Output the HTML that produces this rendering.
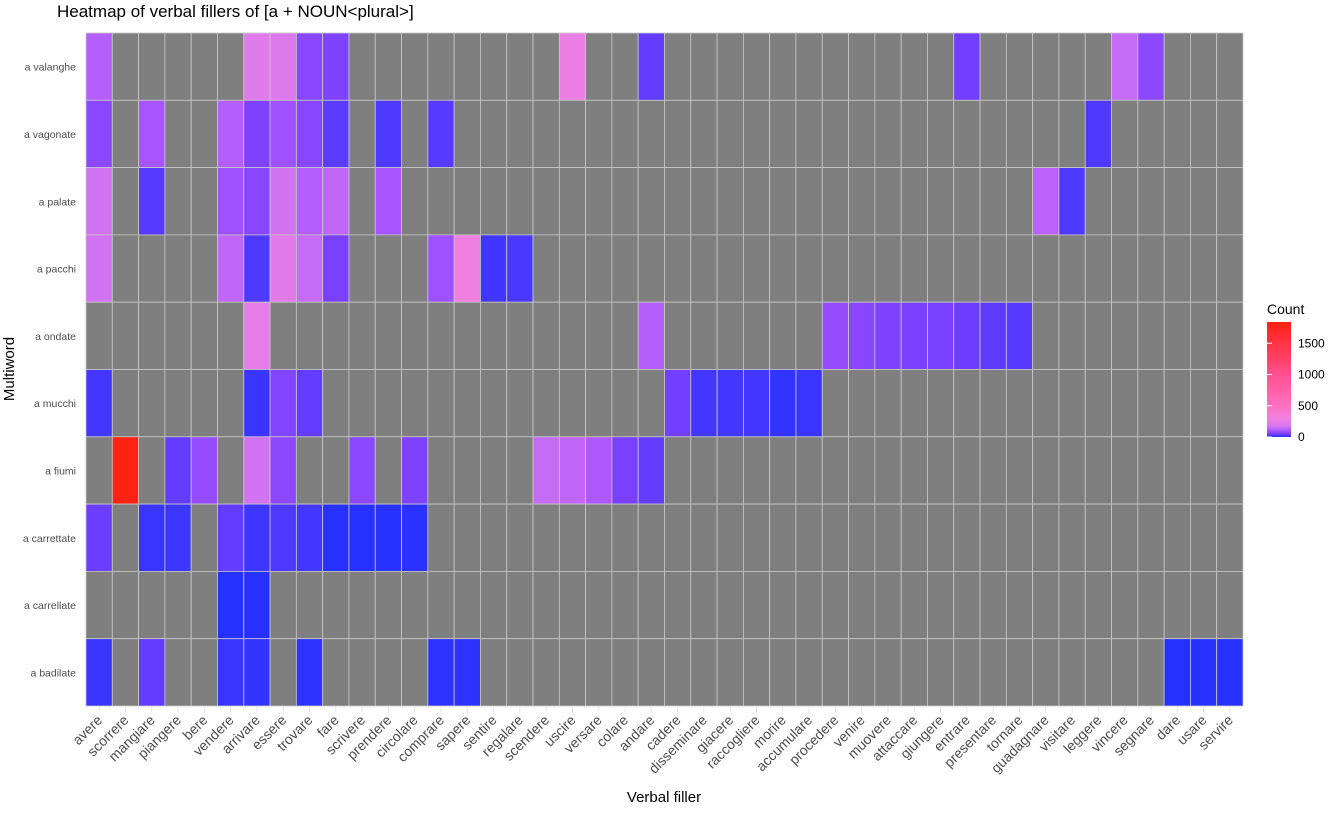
<!DOCTYPE html>
<html><head><meta charset="utf-8"><style>
body{margin:0;background:#fff;font-family:"Liberation Sans",sans-serif}
</style></head><body>
<svg id="chart" width="1328" height="809" xmlns="http://www.w3.org/2000/svg">
<text x="57" y="17" font-size="17" fill="#000">Heatmap of verbal fillers of [a + NOUN&lt;plural&gt;]</text>
<g id="cells"></g><g id="ylab"></g><g id="xlab"></g>
<text x="664" y="802" font-size="15" text-anchor="middle" fill="#000">Verbal filler</text>
<text transform="translate(14,369) rotate(-90)" font-size="15" text-anchor="middle" fill="#000">Multiword</text>
<g>
<defs><linearGradient id="lg" x1="0" y1="1" x2="0" y2="0"></linearGradient></defs>
<text x="1267" y="314" font-size="14" fill="#000">Count</text>
<rect id="lgbar" x="1267" y="322" width="24" height="115" fill="url(#lg)"/>
<g id="lgticks"></g>
</g>
</svg>
<script>
const verbs=["avere","scorrere","mangiare","piangere","bere","vendere","arrivare","essere","trovare","fare","scrivere","prendere","circolare","comprare","sapere","sentire","regalare","scendere","uscire","versare","colare","andare","cadere","disseminare","giacere","raccogliere","morire","accumulare","procedere","venire","muovere","attaccare","giungere","entrare","presentare","tornare","guadagnare","visitare","leggere","vincere","segnare","dare","usare","servire"];
const rows=["a valanghe","a vagonate","a palate","a pacchi","a ondate","a mucchi","a fiumi","a carrettate","a carrellate","a badilate"];
const rowValanghe={avere:120,arrivare:220,essere:200,trovare:65,fare:55,uscire:280,andare:35,entrare:45,vincere:150,segnare:70};
const rowVagonate={avere:70,mangiare:100,vendere:120,arrivare:55,essere:90,trovare:65,fare:30,prendere:22,comprare:28,leggere:22};
const rowPalate={avere:170,mangiare:28,vendere:90,arrivare:65,essere:170,trovare:120,fare:140,prendere:100,guadagnare:130,visitare:22};
const rowPacchi={avere:170,vendere:140,arrivare:22,essere:230,trovare:150,fare:50,comprare:90,sapere:300,sentire:15,regalare:20};
const rowOndate={arrivare:250,andare:120,procedere:80,venire:65,muovere:55,attaccare:50,giungere:50,entrare:40,presentare:32,tornare:28};
const rowMucchi={avere:16,arrivare:12,essere:60,trovare:35,cadere:45,disseminare:16,giacere:16,raccogliere:16,morire:8,accumulare:12};
const rowFiumi={scorrere:1830,piangere:35,bere:80,arrivare:170,essere:70,scrivere:70,circolare:55,scendere:150,uscire:140,versare:110,colare:50,andare:35};
const rowCarrettate={avere:40,mangiare:12,piangere:14,vendere:35,arrivare:14,essere:22,trovare:16,fare:3,scrivere:3,prendere:4,circolare:5};
const rowCarrellate={vendere:2,arrivare:3};
const rowBadilate={avere:12,mangiare:35,vendere:12,arrivare:9,trovare:6,comprare:6,sapere:6,dare:3,usare:3,servire:3};
const rowData=[rowValanghe,rowVagonate,rowPalate,rowPacchi,rowOndate,rowMucchi,rowFiumi,rowCarrettate,rowCarrellate,rowBadilate];
const legendTicks=[0,500,1000,1500];
const maxVal=1840;
const stops=[[0,[32,48,255]],[20,[74,56,255]],[50,[122,64,255]],[100,[168,85,255]],[180,[216,120,240]],[300,[240,128,224]],[500,[255,112,192]],[1000,[255,80,144]],[1840,[255,32,16]]];
function col(v){for(let i=1;i<stops.length;i++){if(v<=stops[i][0]){const a=stops[i-1],b=stops[i];const t=(v-a[0])/(b[0]-a[0]);return 'rgb('+a[1].map((c,k)=>Math.round(c+(b[1][k]-c)*t)).join(',')+')';}}return 'rgb(255,32,16)';}
const L=86,R=1243,T=33,B=706;
const cw=(R-L)/verbs.length,rh=(B-T)/rows.length;
const xs=i=>L+i*cw, ys=j=>T+j*rh;
const NS="http://www.w3.org/2000/svg";
const cells=document.getElementById('cells'),yl=document.getElementById('ylab'),xl=document.getElementById('xlab');
rows.forEach((r,j)=>{
 verbs.forEach((v,i)=>{
  const val=rowData[j][v];
  const e=document.createElementNS(NS,'rect');
  e.setAttribute('x',xs(i));e.setAttribute('y',ys(j));e.setAttribute('width',cw);e.setAttribute('height',rh);
  e.setAttribute('fill',val===undefined?'#7f7f7f':col(val));
  e.setAttribute('stroke','#c8c8c8');e.setAttribute('stroke-width','0.8');
  
  
  cells.appendChild(e);
 });
 const t=document.createElementNS(NS,'text');
 t.setAttribute('x',76);t.setAttribute('y',ys(j)+rh/2+4);t.setAttribute('text-anchor','end');t.setAttribute('font-size','10.5');t.setAttribute('fill','#4d4d4d');
 t.textContent=r;
 
 
 yl.appendChild(t);
});
verbs.forEach((v,i)=>{
 const cx=xs(i)+cw/2;
 const tk=document.createElementNS(NS,'line');
 tk.setAttribute('x1',cx);tk.setAttribute('x2',cx);tk.setAttribute('y1',B);tk.setAttribute('y2',B+7);tk.setAttribute('stroke','#e5e5e5');
 
 
 xl.appendChild(tk);
 const t=document.createElementNS(NS,'text');
 t.setAttribute('transform','translate('+(cx+4)+','+(B+15)+') rotate(-45)');
 t.setAttribute('text-anchor','end');t.setAttribute('font-size','14');t.setAttribute('fill','#4d4d4d');
 t.textContent=v;
 
 
 xl.appendChild(t);
});
const lg=document.getElementById('lg');
stops.forEach(s=>{const st=document.createElementNS(NS,'stop');st.setAttribute('offset',s[0]/maxVal);st.setAttribute('stop-color',col(s[0]));lg.appendChild(st);});
const lt=document.getElementById('lgticks');
legendTicks.forEach(v=>{
 const y=437-v/maxVal*115;
 const t=document.createElementNS(NS,'text');
 t.setAttribute('x',1298);t.setAttribute('y',y+4);t.setAttribute('font-size','12');t.setAttribute('fill','#000');
 t.textContent=v;
 
 
 lt.appendChild(t);
 const l=document.createElementNS(NS,'line');
 l.setAttribute('x1',1267);l.setAttribute('x2',1272);l.setAttribute('y1',y);l.setAttribute('y2',y);l.setAttribute('stroke','#fff');
 
 
 lt.appendChild(l);
});
</script>
</body></html>
